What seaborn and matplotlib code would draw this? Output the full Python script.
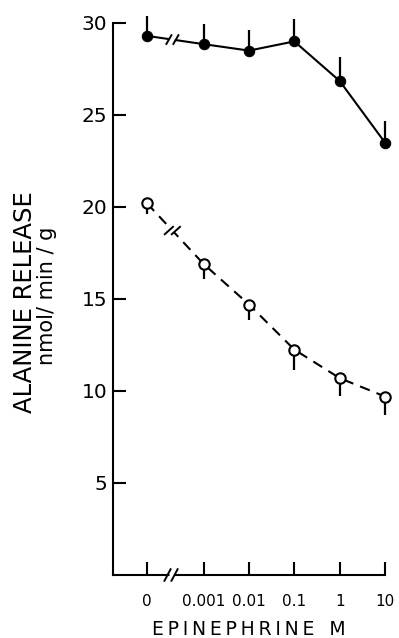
import numpy as np
import pandas as pd
import matplotlib
matplotlib.use("Agg")
import matplotlib.pyplot as plt
import seaborn as sns

# ---- data -----------------------------------------------------------------
concentrations = [0, 0.001, 0.01, 0.1, 1, 10]
tick_labels = ["0", "0.001", "0.01", "0.1", "1", "10"]
filled_vals = [29.3, 28.85, 28.5, 29.0, 26.85, 23.5]
filled_err = [1.1, 1.1, 1.1, 1.2, 1.3, 1.2]
open_vals = [20.2, 16.9, 14.7, 12.25, 10.7, 9.7]
open_err = [0.6, 0.8, 0.85, 1.1, 0.95, 1.0]
y_ticks = [5, 10, 15, 20, 25, 30]

ZERO_POS = -4.25   # axis position used for the "0" (broken axis)
BREAK_POS = -3.72  # where the axis break marks sit

xpos = [ZERO_POS if c == 0 else np.log10(c) for c in concentrations]

df = pd.DataFrame({
    "pos": xpos * 2,
    "val": filled_vals + open_vals,
    "group": ["filled"] * 6 + ["open"] * 6,
})

sns.set_style("ticks")
plt.rcParams["font.family"] = ["DejaVu Sans"]
plt.rcParams.update({
    "text.color": "black", "axes.labelcolor": "black",
    "xtick.color": "black", "ytick.color": "black",
    "axes.edgecolor": "black",
})

fig = plt.figure(figsize=(3.99, 6.38), dpi=100)
ax = fig.add_axes([113 / 399, 63 / 638, 272 / 399, 552 / 638])

ax.set_xlim(-5, 1)
ax.set_ylim(0, 30)

# error bars (one-sided)
ax.errorbar(xpos, filled_vals, yerr=[np.zeros(6), filled_err], fmt="none",
            ecolor="black", elinewidth=1.6, capsize=0, clip_on=False, zorder=2)
ax.errorbar(xpos, open_vals, yerr=[open_err, np.zeros(6)], fmt="none",
            ecolor="black", elinewidth=1.6, capsize=0, clip_on=False, zorder=2)

sns.lineplot(data=df[df.group == "filled"], x="pos", y="val", ax=ax,
             color="black", lw=1.5, marker="o", markersize=7.5,
             markerfacecolor="black", markeredgecolor="black",
             clip_on=False, zorder=3, legend=False)
sns.lineplot(data=df[df.group == "open"], x="pos", y="val", ax=ax,
             color="black", lw=1.5, marker="o", markersize=7.5,
             markerfacecolor="white", markeredgecolor="black",
             markeredgewidth=1.5, clip_on=False, zorder=3, legend=False)
ax.lines[-1].set_dashes([5, 3.5])

# axes styling
for s in ["top", "right"]:
    ax.spines[s].set_visible(False)
for s in ["left", "bottom"]:
    ax.spines[s].set_linewidth(1.5)
    ax.spines[s].set_color("black")

ax.set_xticks(xpos)
ax.set_xticklabels(tick_labels, fontsize=11)
ax.set_yticks(y_ticks)
ax.set_yticklabels([str(v) for v in y_ticks], fontsize=14.5)
ax.tick_params(axis="both", direction="in", length=9.5, width=1.5, color="black",
               labelcolor="black")
ax.tick_params(axis="x", pad=14)
ax.tick_params(axis="y", pad=4)
ax.set_xlabel("")
ax.set_ylabel("")

sp = "\u2009"
ax.text(0.5, -0.098, sp.join("EPINEPHRINE") + sp * 4 + "M", transform=ax.transAxes,
        ha="center", va="center", fontsize=13.5, color="black")
ax.text(-0.325, 0.495, "ALANINE RELEASE", transform=ax.transAxes,
        rotation=90, ha="center", va="center", fontsize=17.5, color="black")
ax.text(-0.243, 0.505, "nmol/ min / g", transform=ax.transAxes,
        rotation=90, ha="center", va="center", fontsize=15, color="black")


def draw_break(ax, x, y, sep_px=7, len_px=12, angle=60, lw=1.4):
    t = ax.transData
    X, Y = t.transform((x, y))
    inv = t.inverted()
    a = np.deg2rad(angle)
    dx, dy = np.cos(a) * len_px / 2, np.sin(a) * len_px / 2
    for off in (-sep_px / 2, sep_px / 2):
        p1 = inv.transform((X + off - dx, Y - dy))
        p2 = inv.transform((X + off + dx, Y + dy))
        ax.plot([p1[0], p2[0]], [p1[1], p2[1]], color="black", lw=lw,
                clip_on=False, solid_capstyle="butt", zorder=6)


def gap_on_line(ax, x0, y0, x1, y1, xb, sep_px=7, lw=3.5):
    t = ax.transData
    P0 = t.transform((x0, y0))
    P1 = t.transform((x1, y1))
    yb = y0 + (y1 - y0) * (xb - x0) / (x1 - x0)
    B = t.transform((xb, yb))
    d = (P1 - P0) / np.linalg.norm(P1 - P0)
    inv = t.inverted()
    q1 = inv.transform(B - d * sep_px / 2 + d * 1)
    q2 = inv.transform(B + d * sep_px / 2 - d * 1)
    ax.plot([q1[0], q2[0]], [q1[1], q2[1]], color="white", lw=lw,
            clip_on=False, solid_capstyle="butt", zorder=5)
    return yb


# break on x axis
Xb, Yb = ax.transData.transform((BREAK_POS, 0))
inv = ax.transData.inverted()
q1 = inv.transform((Xb - 2.5, Yb))
q2 = inv.transform((Xb + 2.5, Yb))
ax.plot([q1[0], q2[0]], [0, 0], color="white", lw=3.5, clip_on=False,
        solid_capstyle="butt", zorder=5)
draw_break(ax, BREAK_POS, 0, sep_px=7, len_px=15, angle=62)

# breaks on data lines
for vals, ang, ln in ((filled_vals, 60, 12), (open_vals, 42, 13)):
    yb = gap_on_line(ax, xpos[0], vals[0], xpos[1], vals[1], BREAK_POS + 0.03)
    draw_break(ax, BREAK_POS + 0.03, yb, sep_px=7, len_px=ln, angle=ang)

fig.savefig("out.png", dpi=100)
